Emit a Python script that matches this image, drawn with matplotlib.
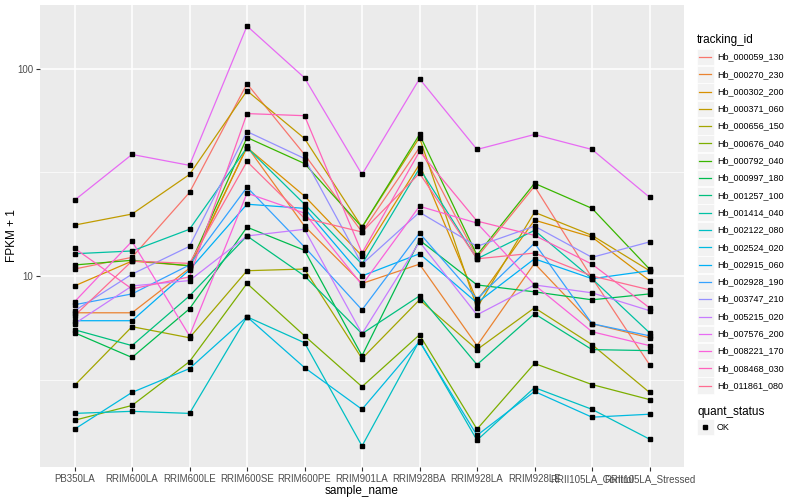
import matplotlib
matplotlib.use("Agg")
import matplotlib.pyplot as plt
from matplotlib.patches import Rectangle
from matplotlib.lines import Line2D
import numpy as np

plt.rcParams['font.family'] = ['Liberation Sans', 'DejaVu Sans']

samples = ["PB350LA", "RRIM600LA", "RRIM600LE", "RRIM600SE", "RRIM600PE",
           "RRIM901LA", "RRIM928BA", "RRIM928LA", "RRIM928LE",
           "RRII105LA_Control", "RRII105LA_Stressed"]

tracking_ids = ["Hb_000059_130", "Hb_000270_230", "Hb_000302_200", "Hb_000371_060",
                "Hb_000656_150", "Hb_000676_040", "Hb_000792_040", "Hb_000997_180",
                "Hb_001257_100", "Hb_001414_040", "Hb_002122_080", "Hb_002524_020",
                "Hb_002915_060", "Hb_002928_190", "Hb_003747_210", "Hb_005215_020",
                "Hb_007576_200", "Hb_008221_170", "Hb_008468_030", "Hb_011861_080"]

colores = ["#F8766D", "#EA8331", "#D89000", "#C09B00", "#A3A500", "#7CAE00",
           "#39B600", "#00BB4E", "#00BF7D", "#00C1A3", "#00BFC4", "#00BAE0",
           "#00B0F6", "#35A2FF", "#9590FF", "#C77CFF", "#E76BF3", "#FA62DB",
           "#FF62BC", "#FF6C91"]

# FPKM + 1 por gen (mismo orden que tracking_ids)
hb_000059_130 = [10.8, 12.3, 25.3, 84.7, 38.6, 16.3, 41.7, 12.3, 27.1, 9.8, 3.73]
hb_000270_230 = [6.64, 6.64, 10.9, 42.2, 17.4, 9.2, 11.4, 4.61, 11.5, 5.88, 5.03]
hb_000302_200 = [8.95, 11.8, 11.2, 41.7, 24.3, 12.5, 34.6, 7.58, 18.6, 15.4, 9.5]
hb_000371_060 = [17.6, 19.9, 30.9, 78.4, 46.1, 17.2, 46.6, 7.02, 20.3, 15.7, 10.6]
hb_000656_150 = [2.96, 5.69, 5.03, 10.6, 10.8, 3.99, 7.67, 4.41, 7.02, 4.66, 2.74]
hb_000676_040 = [2.01, 2.37, 3.86, 9.2, 5.14, 2.92, 5.20, 1.82, 3.78, 2.99, 2.53]
hb_000792_040 = [11.3, 11.9, 11.2, 46.6, 34.9, 17.2, 48.2, 12.6, 28.0, 21.2, 10.8]
hb_000997_180 = [5.32, 4.04, 6.94, 17.2, 13.3, 4.12, 14.9, 9.05, 8.38, 7.67, 8.19]
hb_001257_100 = [5.50, 4.61, 8.01, 15.6, 10.0, 5.26, 8.01, 3.73, 6.57, 4.41, 4.36]
hb_001414_040 = [12.8, 13.2, 16.8, 41.7, 22.2, 11.4, 33.1, 12.1, 16.6, 9.7, 5.32]
hb_002122_080 = [2.17, 2.22, 2.17, 6.35, 4.76, 1.51, 4.87, 1.61, 2.89, 2.27, 1.63]
hb_002524_020 = [1.82, 2.74, 3.57, 6.35, 3.61, 2.27, 4.82, 1.70, 2.77, 2.08, 2.15]
hb_002915_060 = [6.08, 6.08, 10.7, 22.2, 21.2, 10.0, 12.8, 7.42, 12.1, 9.7, 10.6]
hb_002928_190 = [7.26, 8.19, 11.3, 26.8, 13.8, 6.86, 16.1, 7.75, 14.4, 5.88, 5.14]
hb_003747_210 = [6.79, 10.2, 13.9, 49.8, 36.9, 11.4, 20.3, 13.9, 17.4, 12.3, 14.6]
hb_005215_020 = [5.88, 8.95, 9.5, 15.6, 16.8, 5.26, 14.6, 6.49, 9.05, 8.29, 6.8]
hb_007576_200 = [23.2, 38.6, 34.2, 161, 90.5, 30.9, 89.5, 40.8, 48.2, 40.8, 24.0]
hb_008221_170 = [7.50, 14.7, 5.14, 25.1, 20.1, 9.05, 21.7, 18.0, 9.05, 5.38, 4.61]
hb_008468_030 = [13.6, 8.66, 9.9, 60.8, 59.4, 12.9, 39.9, 18.4, 15.7, 11.4, 7.02]
hb_011861_080 = [6.42, 11.8, 11.5, 35.7, 19.0, 16.3, 31.3, 12.1, 12.9, 10.0, 8.57]

series = [hb_000059_130, hb_000270_230, hb_000302_200, hb_000371_060, hb_000656_150,
          hb_000676_040, hb_000792_040, hb_000997_180, hb_001257_100, hb_001414_040,
          hb_002122_080, hb_002524_020, hb_002915_060, hb_002928_190, hb_003747_210,
          hb_005215_020, hb_007576_200, hb_008221_170, hb_008468_030, hb_011861_080]

W, H = 800, 500
fig = plt.figure(figsize=(8, 5), dpi=100)
px_l, px_r, px_t, px_b = 40, 684, 5, 467
ax = fig.add_axes([px_l / W, 1 - px_b / H, (px_r - px_l) / W, (px_b - px_t) / H])
ax.set_facecolor("#EBEBEB")

x = np.arange(len(samples))
for vals, col in zip(series, colores):
    ax.plot(x, vals, color=col, lw=0.9, zorder=3)
for vals in series:
    ax.plot(x, vals, ls='none', marker='s', ms=2.3, color='black', zorder=4)

ax.set_yscale('log')
todos = np.log10(np.concatenate([np.array(s) for s in series]))
rango = todos.max() - todos.min()
ax.set_ylim(10 ** (todos.min() - 0.05 * rango), 10 ** (todos.max() + 0.05 * rango))
ax.set_xlim(-0.6, len(samples) - 0.4)

ax.set_yticks([10, 100])
ax.set_yticklabels(["10", "100"])
ax.set_yticks([10 ** 0.5, 10 ** 1.5], minor=True)
ax.yaxis.set_minor_formatter(plt.NullFormatter())
ax.set_xticks(x)
ax.set_xticklabels(samples)

ax.grid(True, which='major', color='white', lw=1.1, zorder=0)
ax.grid(True, which='minor', axis='y', color='white', lw=0.5, zorder=0)
ax.set_axisbelow(True)
for s in ax.spines.values():
    s.set_visible(False)
ax.tick_params(axis='both', which='major', length=3, width=0.8, color='#333333',
               labelsize=7, labelcolor='#4D4D4D', pad=2)
ax.tick_params(axis='y', which='minor', length=0)

ax.set_xlabel("sample_name", fontsize=8.5)
ax.set_ylabel("FPKM + 1", fontsize=8.5)
ax.yaxis.set_label_coords((18 - px_l) / (px_r - px_l), 0.5)
ax.xaxis.set_label_coords(0.5, -(485 - px_b) / (px_b - px_t))

# leyenda dibujada a mano
def fx(p):
    return p / W

def fy(p):
    return 1 - p / H

fig.text(fx(697), fy(40), "tracking_id", fontsize=8.5, va='center', ha='left')
paso = 17.3
for i, (tid, col) in enumerate(zip(tracking_ids, colores)):
    yc = 57 + i * paso
    fig.patches.append(Rectangle((fx(697), fy(yc + 8.3)), 16.6 / W, 16.6 / H,
                                 transform=fig.transFigure, facecolor='#F2F2F2',
                                 edgecolor='white', lw=0.5))
    fig.lines.append(Line2D([fx(699), fx(711)], [fy(yc), fy(yc)], color=col, lw=0.9,
                            transform=fig.transFigure))
    fig.text(fx(717), fy(yc), tid, fontsize=6.5, va='center', ha='left')

fig.text(fx(697), fy(412), "quant_status", fontsize=8.5, va='center', ha='left')
fig.patches.append(Rectangle((fx(697), fy(427 + 8.3)), 16.6 / W, 16.6 / H,
                             transform=fig.transFigure, facecolor='#F2F2F2',
                             edgecolor='white', lw=0.5))
fig.lines.append(Line2D([fx(705)], [fy(427)], marker='s', ms=2.3, color='black', ls='none',
                        transform=fig.transFigure))
fig.text(fx(717), fy(427), "OK", fontsize=6.5, va='center', ha='left')

fig.savefig("out.png", dpi=100)
